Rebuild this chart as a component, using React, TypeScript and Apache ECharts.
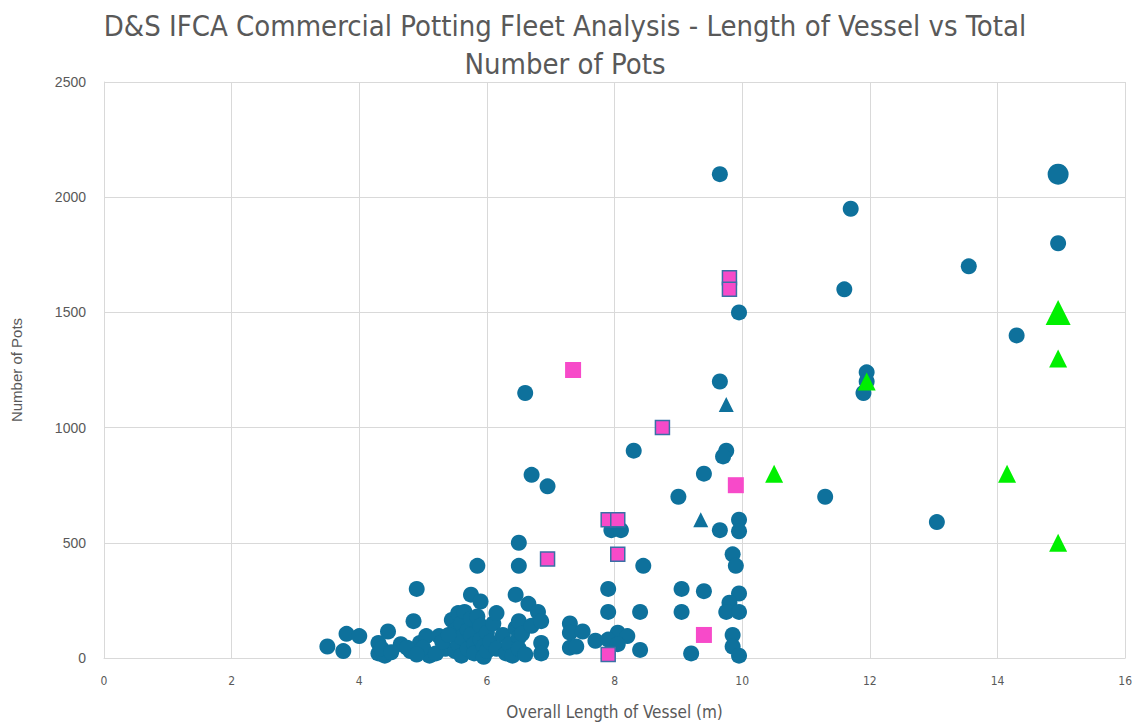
import React, { useEffect, useRef } from "react";
import * as echarts from "echarts";

const titleText = "D&S IFCA Commercial Potting Fleet Analysis - Length of Vessel vs Total\nNumber of Pots";
const xAxisName = "Overall Length of Vessel (m)";
const yAxisName = "Number of Pots";

// blue circles (main fleet)
const blueCircles: number[][] = [
  [9.65, 2100], [11.7, 1950], [14.95, 1800], [13.55, 1700], [11.6, 1600], [9.95, 1500], [14.3, 1400],
  [11.95, 1240], [11.95, 1200], [11.9, 1150], [9.65, 1200], [6.6, 1150], [8.3, 900], [9.75, 900], [9.7, 875],
  [6.7, 795], [9.4, 800], [6.95, 745], [11.3, 700], [9.0, 700], [13.05, 590],
  [9.95, 600], [9.95, 550], [9.65, 555], [7.95, 555], [8.1, 555], [6.5, 500], [6.5, 400], [5.85, 400], [8.45, 400],
  [9.85, 450], [9.9, 400], [4.9, 300], [7.9, 300], [9.05, 300], [9.4, 290], [9.95, 280], [9.8, 240], [9.75, 200],
  [9.95, 200], [7.9, 200], [8.4, 200], [9.05, 200],
  [7.3, 150], [7.3, 110], [7.5, 115], [7.7, 75], [7.3, 45], [7.4, 50], [8.05, 110], [7.9, 80], [8.2, 95], [8.05, 60],
  [9.2, 20], [8.4, 35], [9.85, 100], [9.85, 50], [9.95, 10],
  [3.5, 50], [3.75, 30], [3.8, 105], [4.0, 95], [4.3, 65], [4.3, 20], [4.4, 10], [4.45, 115], [4.65, 60], [4.8, 30],
  [4.85, 160], [4.95, 65], [5.05, 95], [5.1, 10], [5.25, 95], [5.35, 40], [5.45, 165], [5.5, 120], [5.5, 30],
  [5.55, 195], [5.55, 60], [5.6, 150], [5.6, 90], [5.6, 10], [5.65, 200], [5.7, 120], [5.7, 40], [5.75, 170],
  [5.75, 275], [5.75, 100], [5.8, 60], [5.8, 20], [5.85, 180], [5.9, 245], [5.9, 140], [5.9, 80], [5.95, 50],
  [5.95, 5], [6.0, 110], [6.0, 30], [6.05, 70], [6.1, 150], [6.15, 40], [6.15, 195], [6.25, 100], [6.3, 20],
  [6.35, 60], [6.4, 10], [6.45, 275], [6.45, 130], [6.5, 160], [6.5, 90], [6.5, 40], [6.55, 105], [6.65, 235],
  [6.7, 140], [6.8, 200], [6.85, 160], [6.85, 65], [6.85, 20], [5.0, 45], [4.75, 45], [5.2, 20], [5.3, 70],
  [5.4, 100], [6.6, 15], [4.35, 40], [4.5, 25], [4.9, 15],
];
const blueCircleLarge: number[][] = [[14.95, 2100]];
const blueTriangles: number[][] = [[9.75, 1100], [9.35, 600]];
const pinkSquaresBordered: number[][] = [
  [9.8, 1650], [9.8, 1600], [8.75, 1000], [7.9, 600], [8.05, 600], [6.95, 430], [8.05, 450], [7.9, 15],
];
const pinkSquares: number[][] = [[7.35, 1250], [9.9, 750], [9.4, 100]];
const greenTriangles: number[][] = [[11.95, 1200], [10.5, 800], [14.15, 800], [14.95, 1300], [14.95, 500]];
const greenTriangleLarge: number[][] = [[14.95, 1500]];

const BLUE = "#0E719C";
const PINK = "#F74AC9";
const GREEN = "#00F000";
const GRAY = "#595959";
const NARROW = "'Liberation Sans Narrow', 'DejaVu Sans Condensed', sans-serif";

export default function App() {
  const ref = useRef<HTMLDivElement>(null);
  useEffect(() => {
    if (!ref.current) return;
    const chart = echarts.init(ref.current, null, { renderer: "svg" });
    chart.setOption({
      animation: false,
      backgroundColor: "#ffffff",
      title: {
        text: titleText,
        left: 560,
        textAlign: "center",
        top: 2,
        textStyle: {
          fontFamily: NARROW,
          fontWeight: "normal",
          fontSize: 29,
          color: GRAY,
          lineHeight: 38,
        },
      },
      grid: { left: 104, right: 8, top: 82, bottom: 63, containLabel: false },
      xAxis: {
        type: "value",
        min: 0,
        max: 16,
        interval: 2,
        name: xAxisName,
        nameLocation: "middle",
        nameGap: 45,
        nameTextStyle: { fontFamily: NARROW, fontSize: 17, color: GRAY },
        axisLine: { show: true, lineStyle: { color: "#d9d9d9" } },
        axisTick: { show: false },
        axisLabel: { color: GRAY, fontSize: 12, margin: 17, fontFamily: NARROW },
        splitLine: { show: true, lineStyle: { color: "#d9d9d9", width: 1 } },
      },
      yAxis: {
        type: "value",
        min: 0,
        max: 2500,
        interval: 500,
        name: yAxisName,
        nameLocation: "middle",
        nameGap: 80,
        nameTextStyle: { fontFamily: "'Liberation Sans', Arial, sans-serif", fontSize: 15, color: GRAY },
        axisLine: { show: true, lineStyle: { color: "#d9d9d9" } },
        axisTick: { show: false },
        axisLabel: {
          color: GRAY,
          fontSize: 14,
          margin: 18,
          fontFamily: "'Liberation Sans', Arial, sans-serif",
          formatter: (v: number) => String(v),
        },
        splitLine: { show: true, lineStyle: { color: "#d9d9d9", width: 1 } },
      },
      series: [
        { type: "scatter", data: blueCircles, symbol: "circle", symbolSize: 16, itemStyle: { color: BLUE, opacity: 1 } },
        { type: "scatter", data: blueCircleLarge, symbol: "circle", symbolSize: 21, itemStyle: { color: BLUE, opacity: 1 } },
        { type: "scatter", data: blueTriangles, symbol: "triangle", symbolSize: 15, itemStyle: { color: BLUE, opacity: 1 } },
        {
          type: "scatter",
          data: pinkSquaresBordered,
          symbol: "rect",
          symbolSize: 14,
          itemStyle: { color: PINK, borderColor: "#3A6FA6", borderWidth: 1.5, opacity: 1 },
        },
        { type: "scatter", data: pinkSquares, symbol: "rect", symbolSize: 16, itemStyle: { color: PINK, opacity: 1 } },
        { type: "scatter", data: greenTriangles, symbol: "triangle", symbolSize: 18, itemStyle: { color: GREEN, opacity: 1 } },
        { type: "scatter", data: greenTriangleLarge, symbol: "triangle", symbolSize: 25, itemStyle: { color: GREEN, opacity: 1 } },
      ],
    });
    return () => chart.dispose();
  }, []);
  return (
    <div
      ref={ref}
      style={{ position: "fixed", left: 0, top: 0, width: 1135, height: 725, background: "#fff" }}
    />
  );
}
